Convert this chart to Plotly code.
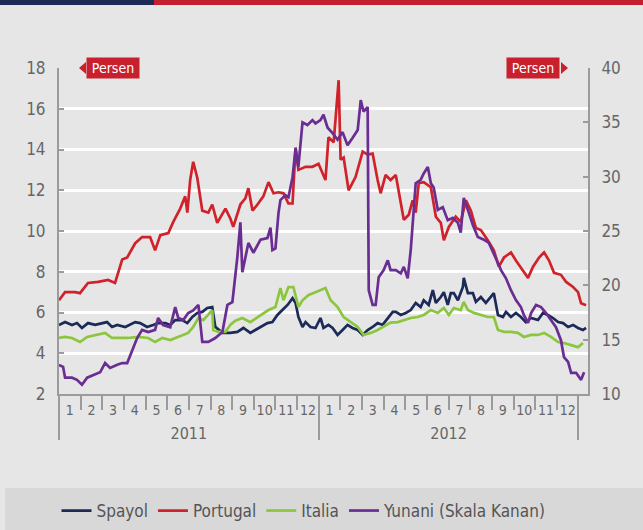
import plotly.graph_objects as go

# Time axis: months elapsed since 1 January 2011 (0 = start of Jan 2011, 24 = start of Jan 2013)
month_labels = [str(m) for m in range(1, 13)] * 2
year_labels = ["2011", "2012"]

# 10-year government bond yields, percent
es_t = [0.0, 0.28, 0.60, 0.83, 1.06, 1.34, 1.67, 1.99, 2.22, 2.45, 2.69, 3.06, 3.29, 3.52, 3.75, 4.07,
        4.35, 4.58, 4.91, 5.14, 5.37, 5.69, 5.93, 6.16, 6.39, 6.62, 6.85, 7.08, 7.22, 7.55, 7.92, 8.24,
        8.52, 8.84, 9.07, 9.31, 9.63, 9.86, 10.09, 10.32, 10.56, 10.79, 10.93, 11.06, 11.25, 11.39, 11.62,
        11.85, 12.08, 12.22, 12.45, 12.64, 12.87, 13.10, 13.33, 13.56, 13.80, 14.03, 14.26, 14.49, 14.72,
        14.95, 15.19, 15.42, 15.56, 15.79, 16.02, 16.25, 16.48, 16.71, 16.85, 17.08, 17.27, 17.41, 17.64,
        17.78, 17.96, 18.10, 18.24, 18.43, 18.66, 18.70, 18.89, 19.12, 19.26, 19.49, 19.72, 19.95, 20.09,
        20.28, 20.51, 20.65, 20.88, 21.11, 21.34, 21.57, 21.81, 22.13, 22.36, 22.59, 22.82, 23.06, 23.29,
        23.52, 23.75, 23.98, 24.21, 24.35]
es_v = [5.39, 5.53, 5.39, 5.48, 5.24, 5.48, 5.39, 5.48, 5.53, 5.29, 5.39, 5.29, 5.39, 5.53, 5.48, 5.29,
        5.39, 5.48, 5.48, 5.39, 5.63, 5.63, 5.48, 5.78, 5.98, 6.03, 6.22, 6.27, 5.30, 5.00, 5.00, 5.05,
        5.24, 5.00, 5.14, 5.29, 5.48, 5.53, 5.88, 6.12, 6.37, 6.70, 6.47, 5.78, 5.29, 5.53, 5.29,
        5.24, 5.73, 5.24, 5.39, 5.24, 4.90, 5.14, 5.39, 5.24, 5.14, 4.90, 5.14, 5.29, 5.48,
        5.39, 5.73, 6.03, 6.03, 5.88, 5.98, 6.12, 6.47, 6.27, 6.60, 6.37, 7.10, 6.47, 6.76,
        7.00, 6.37, 6.95, 6.95, 6.60, 7.25, 7.70, 6.95, 6.95, 6.52, 6.76, 6.47, 6.76, 6.95,
        5.88, 5.78, 6.03, 5.78, 5.98, 5.78, 5.53, 5.73, 5.63, 5.98, 5.88, 5.73, 5.53, 5.48,
        5.29, 5.39, 5.24, 5.14, 5.24]

pt_t = [0.0, 0.28, 0.74, 0.97, 1.34, 1.81, 2.27, 2.59, 2.92, 3.15, 3.52, 3.84, 4.21, 4.44, 4.68, 5.05,
        5.28, 5.60, 5.83, 5.93, 6.06, 6.20, 6.39, 6.62, 6.90, 7.08, 7.31, 7.69, 7.92, 8.05, 8.38, 8.61,
        8.75, 8.94, 9.17, 9.44, 9.68, 9.91, 10.14, 10.37, 10.60, 10.79, 10.93, 11.06, 11.39, 11.71, 11.99,
        12.31, 12.45, 12.69, 12.92, 13.01, 13.15, 13.38, 13.70, 14.03, 14.26, 14.49, 14.72, 14.86, 15.09,
        15.32, 15.56, 15.79, 15.93, 16.16, 16.34, 16.48, 16.62, 16.85, 17.18, 17.41, 17.64, 17.78, 18.01,
        18.33, 18.56, 18.80, 19.03, 19.26, 19.49, 19.81, 20.09, 20.32, 20.56, 20.88, 21.11, 21.44, 21.67,
        21.90, 22.18, 22.41, 22.64, 22.87, 23.19, 23.43, 23.75, 23.98, 24.12, 24.35]
pt_v = [6.60, 7.00, 7.00, 6.95, 7.45, 7.50, 7.60, 7.45, 8.60, 8.70, 9.40, 9.70, 9.70, 9.05, 9.80, 9.90,
        10.45, 11.10, 11.70, 10.90, 12.50, 13.40, 12.60, 11.00, 10.90, 11.30, 10.40, 11.10, 10.60, 10.20, 11.30, 11.60,
        12.10, 11.00, 11.30, 11.70, 12.40, 11.85, 11.90, 11.85, 11.35, 11.35, 14.10, 13.00, 13.15, 13.15, 13.30,
        12.50, 14.60, 14.35, 17.40, 13.50, 13.60, 12.00, 12.65, 13.90, 13.75, 13.80, 12.50, 11.85, 12.75,
        12.50, 12.75, 11.35, 10.55, 10.80, 11.50, 10.90, 12.35, 12.40, 12.15, 10.70, 10.40, 9.55, 10.20,
        10.70, 10.45, 11.50, 11.00, 10.15, 10.05, 9.55, 9.05, 8.25, 8.70, 8.95, 8.55, 8.05, 7.70,
        8.25, 8.70, 8.95, 8.55, 7.95, 7.85, 7.50, 7.25, 7.00, 6.45, 6.35]

it_t = [0.0, 0.28, 0.60, 0.97, 1.30, 1.67, 2.13, 2.45, 2.82, 3.19, 3.66, 4.12, 4.44, 4.77, 5.14, 5.51,
        5.97, 6.20, 6.44, 6.67, 6.90, 7.08, 7.13, 7.36, 7.69, 7.92, 8.15, 8.47, 8.84, 9.31, 9.68, 10.00,
        10.23, 10.37, 10.60, 10.83, 11.06, 11.25, 11.53, 11.85, 12.08, 12.31, 12.55, 12.87, 13.15, 13.47,
        13.80, 14.07, 14.40, 14.72, 15.00, 15.32, 15.65, 15.93, 16.25, 16.57, 16.85, 17.18, 17.50, 17.78,
        18.01, 18.24, 18.56, 18.70, 18.89, 19.17, 19.49, 19.81, 20.09, 20.28, 20.56, 20.88, 21.20, 21.48,
        21.81, 22.13, 22.41, 22.73, 23.06, 23.33, 23.66, 23.98, 24.21]
it_v = [4.75, 4.80, 4.75, 4.55, 4.80, 4.90, 5.00, 4.75, 4.75, 4.75, 4.80, 4.75, 4.55, 4.75, 4.65, 4.80,
        5.00, 5.29, 5.73, 5.63, 5.88, 6.12, 5.14, 5.05, 5.05, 5.40, 5.60, 5.73, 5.53, 5.88, 6.12, 6.27,
        7.20, 6.60, 7.25, 7.25, 6.27, 6.60, 6.86, 7.00, 7.10, 7.20, 6.60, 6.27, 5.78, 5.53,
        5.29, 4.90, 5.00, 5.14, 5.29, 5.50, 5.53, 5.63, 5.73, 5.78, 5.88, 6.12, 5.98, 6.22,
        5.88, 6.22, 6.12, 6.52, 6.12, 5.98, 5.88, 5.78, 5.78, 5.14, 5.05, 5.05, 5.00, 4.80,
        4.90, 4.90, 5.00, 4.80, 4.55, 4.50, 4.40, 4.30, 4.50]

# Greece is plotted against the right-hand scale
gr_t = [0.0, 0.19, 0.28, 0.60, 0.83, 1.06, 1.30, 1.57, 1.90, 2.13, 2.36, 2.69, 2.92, 3.15, 3.38, 3.61,
        3.84, 4.12, 4.44, 4.58, 4.81, 5.14, 5.37, 5.51, 5.74, 5.97, 6.20, 6.44, 6.62, 6.90, 7.22, 7.55,
        7.78, 8.01, 8.24, 8.38, 8.47, 8.75, 8.98, 9.31, 9.63, 9.77, 9.86, 10.00, 10.14, 10.23, 10.46,
        10.60, 10.79, 10.93, 11.06, 11.25, 11.48, 11.71, 11.85, 12.08, 12.22, 12.41, 12.64, 12.87, 13.10,
        13.33, 13.56, 13.80, 13.94, 14.07, 14.26, 14.31, 14.49, 14.63, 14.77, 15.00, 15.19, 15.32, 15.56,
        15.79, 15.93, 16.11, 16.25, 16.39, 16.48, 16.71, 16.85, 17.04, 17.18, 17.31, 17.50, 17.73, 17.96,
        18.19, 18.43, 18.56, 18.70, 18.94, 19.12, 19.35, 19.63, 19.86, 20.09, 20.28, 20.42, 20.65, 20.88,
        21.11, 21.34, 21.48, 21.67, 21.81, 22.04, 22.27, 22.50, 22.73, 22.96, 23.19, 23.33, 23.52, 23.66,
        23.89, 24.12, 24.26]
gr_v = [12.67, 12.50, 11.50, 11.50, 11.30, 10.85, 11.50, 11.75, 12.00, 12.85, 12.40, 12.70, 12.85, 12.85, 14.05, 15.15,
        15.90, 15.70, 15.90, 17.00, 16.35, 16.15, 18.00, 17.00, 16.80, 17.45, 17.70, 18.20, 14.80, 14.80, 15.15, 15.70,
        18.20, 18.45, 22.60, 25.80, 21.20, 23.90, 23.00, 24.20, 24.35, 25.30, 23.25, 23.40, 26.65, 27.85, 28.30,
        28.10, 29.95, 32.60, 30.90, 35.00, 34.75, 35.20, 34.90, 35.20, 35.70, 34.50, 34.00, 33.40, 34.10,
        32.90, 33.55, 34.30, 37.05, 36.00, 36.40, 19.55, 18.20, 18.20, 20.75, 21.40, 22.30, 21.40, 21.40,
        21.10, 21.70, 20.65, 23.25, 26.95, 29.40, 29.70, 30.30, 30.90, 29.40, 29.00, 26.95, 27.20, 26.00,
        26.20, 25.75, 24.85, 28.05, 26.65, 25.55, 24.45, 24.20, 23.90, 22.95, 22.05, 21.40, 20.65, 19.55,
        18.65, 18.00, 17.25, 16.55, 17.45, 18.20, 18.00, 17.45, 16.80, 16.15, 14.95, 13.40, 12.95, 11.95,
        11.95, 11.30, 12.00]

NAVY = "#1b2a57"
RED = "#d0222b"
GREEN = "#8cc63e"
PURPLE = "#6a2d92"
AXIS_GREY = "#9b9b9b"
TEXT_GREY = "#666666"
BG = "#e6e6e6"
FONT = "Liberation Sans Narrow, DejaVu Sans Condensed, Arial Narrow, sans-serif"

W, H = 643, 530
ML, MR, MT, MB = 59, 55, 68, 136
PW, PH = W - ML - MR, H - MT - MB


def px(x):
    return (x - ML) / PW


def py(y):
    return (H - MB - y) / PH


fig = go.Figure()
series = [
    ("Spayol", es_t, es_v, NAVY, "x", "y"),
    ("Portugal", pt_t, pt_v, RED, "x", "y"),
    ("Italia", it_t, it_v, GREEN, "x", "y"),
    ("Yunani (Skala Kanan)", gr_t, gr_v, PURPLE, "x2", "y2"),
]
for name, t, v, color, xax, yax in series:
    fig.add_trace(go.Scatter(x=t, y=v, name=name, mode="lines", xaxis=xax, yaxis=yax,
                             line=dict(color=color, width=2.7)))

x_range = [0, 24.44]

fig.update_layout(
    width=W, height=H,
    margin=dict(l=ML, r=MR, t=MT, b=MB, autoexpand=False),
    paper_bgcolor=BG, plot_bgcolor=BG,
    font=dict(family=FONT, color=TEXT_GREY),
    xaxis=dict(
        range=x_range, showgrid=False, zeroline=False, automargin=False,
        showline=True, linecolor=AXIS_GREY, linewidth=2,
        tickmode="array", tickvals=[i + 0.5 for i in range(24)], ticktext=month_labels,
        ticks="", ticklabelstandoff=2, tickfont=dict(size=14, color=TEXT_GREY),
        minor=dict(tickmode="array", tickvals=list(range(25)), ticks="outside",
                   ticklen=14, tickwidth=1.5, tickcolor=AXIS_GREY, showgrid=False),
    ),
    xaxis2=dict(
        range=x_range, overlaying="x", anchor="free", position=0, side="bottom",
        showgrid=False, zeroline=False, showline=False, automargin=False,
        tickmode="array", tickvals=[6, 18], ticktext=year_labels,
        ticks="outside", ticklen=25, tickcolor="rgba(0,0,0,0)",
        tickfont=dict(size=16, color=TEXT_GREY),
        minor=dict(tickmode="array", tickvals=[0, 12, 24], ticks="outside",
                   ticklen=45, tickwidth=2, tickcolor=AXIS_GREY, showgrid=False),
    ),
    yaxis=dict(
        range=[2, 18], tickmode="array", tickvals=list(range(2, 19, 2)),
        showgrid=True, gridcolor="white", gridwidth=2.5, zeroline=False, automargin=False,
        showline=True, linecolor=AXIS_GREY, linewidth=2,
        ticks="inside", ticklen=5, tickcolor=AXIS_GREY, tickwidth=1.5,
        ticklabelstandoff=8, tickfont=dict(size=17, color=TEXT_GREY),
    ),
    yaxis2=dict(
        range=[10, 40], overlaying="y", side="right", anchor="x", tickmode="array",
        tickvals=list(range(10, 41, 5)), showgrid=False, zeroline=False, automargin=False,
        showline=True, linecolor=AXIS_GREY, linewidth=2,
        ticks="inside", ticklen=5, tickcolor=AXIS_GREY, tickwidth=1.5,
        ticklabelstandoff=8, tickfont=dict(size=17, color=TEXT_GREY),
    ),
    legend=dict(orientation="h", x=px(304), xanchor="center", y=py(511), yanchor="middle",
                font=dict(size=17, color="#555555"), bgcolor="rgba(0,0,0,0)",
                itemwidth=30, tracegroupgap=0),
    showlegend=True,
)

shapes = [
    # top banner
    dict(type="rect", xref="paper", yref="paper", x0=px(0), x1=px(154), y0=py(5), y1=py(0),
         fillcolor=NAVY, line_width=0, layer="above"),
    dict(type="rect", xref="paper", yref="paper", x0=px(154), x1=px(643), y0=py(5), y1=py(0),
         fillcolor="#c41f2e", line_width=0, layer="above"),
    # legend band
    dict(type="rect", xref="paper", yref="paper", x0=px(5), x1=px(643), y0=py(530), y1=py(488),
         fillcolor="#d8d8d8", line_width=0, layer="below"),
    # tag pointers
    dict(type="path", xref="paper", yref="paper",
         path=f"M {px(86)} {py(62)} L {px(79)} {py(68)} L {px(86)} {py(74)} Z",
         fillcolor="#c8202c", line_width=0),
    dict(type="path", xref="paper", yref="paper",
         path=f"M {px(561)} {py(62)} L {px(568)} {py(68)} L {px(561)} {py(74)} Z",
         fillcolor="#c8202c", line_width=0),
]
fig.update_layout(shapes=shapes)

for cx in (112.5, 533):
    fig.add_annotation(xref="paper", yref="paper", x=px(cx), y=py(68), text="Persen",
                       showarrow=False, bgcolor="#c8202c", width=50, height=18,
                       font=dict(size=14, color="white", family=FONT),
                       xanchor="center", yanchor="middle")

fig.write_html("out.html")
